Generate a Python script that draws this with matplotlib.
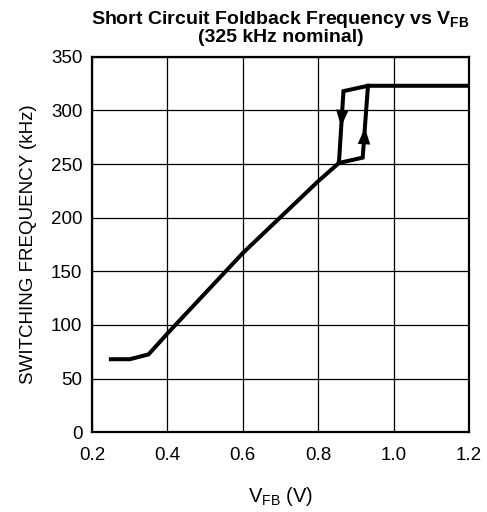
import numpy as np
import matplotlib
matplotlib.use('Agg')
import matplotlib.pyplot as plt

# main trace: slow ramp up to the foldback threshold, then the upper branch
vfb_main = [0.25, 0.30, 0.35, 0.40, 0.60, 0.80, 0.855, 0.867, 0.932, 1.20]
fsw_main = [68, 68, 72.5, 92, 167, 234, 251, 318, 323, 323]

# hysteresis loop (rising branch)
vfb_loop = [0.855, 0.918, 0.932]
fsw_loop = [251, 256, 323]

# arrow positions: (tail, head) in data units
arrow_down = [(0.865, 306), (0.861, 285)]
arrow_up = [(0.921, 266), (0.924, 284)]

x_ticks = [0.2, 0.4, 0.6, 0.8, 1.0, 1.2]
x_tick_labels = ['0.2', '0.4', '0.6', '0.8', '1.0', '1.2']
y_ticks = [0, 50, 100, 150, 200, 250, 300, 350]

matplotlib.rc('font', family=['Liberation Sans', 'DejaVu Sans'], size=13.5)
matplotlib.rc('mathtext', fontset='custom', rm='Liberation Sans',
              bf='Liberation Sans:bold', it='Liberation Sans:italic')

fig = plt.figure(figsize=(4.87, 5.12), dpi=100)
ax = fig.add_axes([0.189, 0.156, 0.774, 0.733])

ax.plot(vfb_main, fsw_main, color='black', lw=2.9, solid_joinstyle='miter', zorder=3)
ax.plot(vfb_loop, fsw_loop, color='black', lw=2.9, solid_joinstyle='miter', zorder=3)

for (tail, head) in [arrow_down, arrow_up]:
    ax.annotate('', xy=head, xytext=tail,
                arrowprops=dict(arrowstyle='-|>,head_length=1.2,head_width=0.45',
                                color='black', lw=0, shrinkA=0, shrinkB=0,
                                mutation_scale=10),
                zorder=4)

ax.set_xlim(0.2, 1.2)
ax.set_ylim(0, 350)
ax.set_xticks(x_ticks)
ax.set_xticklabels(x_tick_labels)
ax.set_yticks(y_ticks)
ax.tick_params(axis='both', length=0)
ax.tick_params(axis='x', pad=11)
ax.tick_params(axis='y', pad=7)
ax.grid(True, color='black', lw=0.9)
ax.set_axisbelow(True)
for s in ax.spines.values():
    s.set_linewidth(1.6)

ax.set_xlabel(r'V$_{\mathrm{FB}}$ (V)', labelpad=15, fontsize=14.5)
ax.set_ylabel('SWITCHING FREQUENCY (kHz)', labelpad=10)
ax.set_title('Short Circuit Foldback Frequency vs V$_{\\mathbf{FB}}$\n(325 kHz nominal)',
             fontweight='bold', fontsize=14, linespacing=0.9, pad=11)

plt.savefig('out.png', dpi=100)
